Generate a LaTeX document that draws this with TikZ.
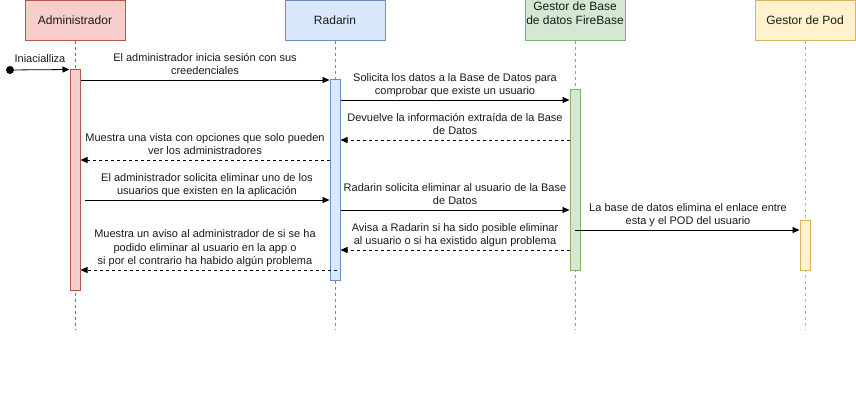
\documentclass[tikz,border=0pt]{standalone}
\usepackage{fontspec}
\setmainfont{Liberation Sans}
\usetikzlibrary{arrows.meta}
\definecolor{redF}{HTML}{F8CECC}\definecolor{redS}{HTML}{B85450}
\definecolor{bluF}{HTML}{DAE8FC}\definecolor{bluS}{HTML}{6C8EBF}
\definecolor{grnF}{HTML}{D5E8D4}\definecolor{grnS}{HTML}{82B366}
\definecolor{ylwF}{HTML}{FFF2CC}\definecolor{ylwS}{HTML}{D6B656}
\definecolor{txt}{HTML}{1A1A1A}
\tikzset{
  head/.style={draw=#1S, fill=#1F, line width=1pt, minimum width=100pt, minimum height=40pt,
    inner sep=0pt, font=\fontsize{12}{14}\selectfont, text=txt, align=center},
  lifeline/.style={draw=#1S, line width=0.8pt, dash pattern=on 3pt off 3pt},
  actbar/.style={draw=#1S, fill=#1F, line width=1pt, minimum width=10pt, inner sep=0pt},
  msg/.style={draw=black, line width=0.8pt, -{Triangle[length=7pt,width=6pt]}},
  ret/.style={msg, dash pattern=on 3pt off 3pt},
  lbl/.style={font=\fontsize{11}{13.5}\selectfont, text=txt, align=center, inner sep=0pt, anchor=south},
}
\begin{document}
\begin{tikzpicture}[x=1pt,y=-1pt]
\useasboundingbox (0,0) rectangle (856,401);
\clip (0,0) rectangle (856,401);
% headers
\node[head=red] (hA) at (75,20.5) {Administrador};
\node[head=blu] (hR) at (335,20.5) {Radarin};
\node[head=grn, minimum height=54pt] (hG) at (575,13.5) {Gestor de Base\\de datos FireBase};
\node[head=ylw] (hP) at (805,20.5) {Gestor de Pod};
% lifeline ends
\coordinate (eA) at (75.5,330);
\coordinate (eR) at (335.5,330);
\coordinate (eG) at (575.5,330);
\coordinate (eP) at (805.5,330);
\draw[lifeline=red] (hA.south -| eA) -- (eA);
\draw[lifeline=blu] (hR.south -| eR) -- (eR);
\draw[lifeline=grn] (hG.south -| eG) -- (eG);
\draw[lifeline=ylw] (hP.south -| eP) -- (eP);
% activation bars
\node[actbar=red, minimum height=220pt] (bA) at (75,180) {};
\node[actbar=blu, minimum height=200pt] (bR) at (335,180) {};
\node[actbar=grn, minimum height=180pt] (bG) at (575,180) {};
\node[actbar=ylw, minimum height=50pt] (bP) at (805,245) {};
% start
\node[circle, fill=black, inner sep=0pt, minimum size=8pt] (st) at (10,70) {};
\draw[msg] (st) -- (bA.north west);
\node[lbl] (lst) at (40,67) {Iniacialliza\strut};
% rows
\coordinate (y1) at (0,80);
\coordinate (y2) at (0,100);
\coordinate (y3) at (0,140);
\coordinate (y4) at (0,160);
\coordinate (y5) at (0,200);
\coordinate (y6) at (0,210);
\coordinate (y7) at (0,230);
\coordinate (y8) at (0,250);
\coordinate (y9) at (0,270);
\coordinate (s5) at (85,200);
\coordinate (s9) at (337,270);
% messages
\draw[msg] (bA.east |- y1) -- (bR.west |- y1);
\node[lbl] (l1) at (205,79) {El administrador inicia sesión con sus\\creedenciales\strut};
\draw[msg] (bR.east |- y2) -- (bG.west |- y2);
\node[lbl] (l2) at (455,99) {Solicita los datos a la Base de Datos para\\comprobar que existe un usuario\strut};
\draw[ret] (bG.west |- y3) -- (bR.east |- y3);
\node[lbl] (l3) at (455,139) {Devuelve la información extraída de la Base\\de Datos\strut};
\draw[ret] (bR.west |- y4) -- (bA.east |- y4);
\node[lbl] (l4) at (205,159) {Muestra una vista con opciones que solo pueden\\ver los administradores\strut};
\draw[msg] (s5) -- (bR.west |- y5);
\node[lbl] (l5) at (207,199) {El administrador solicita eliminar uno de los\\usuarios que existen en la aplicación\strut};
\draw[msg] (bR.east |- y6) -- (bG.west |- y6);
\node[lbl] (l6) at (455,209) {Radarin solicita eliminar al usuario de la Base\\de Datos\strut};
\draw[msg] (bG.center |- y7) -- (bP.west |- y7);
\node[lbl] (l7) at (688,229) {La base de datos elimina el enlace entre\\esta y el POD del usuario\strut};
\draw[ret] (bG.west |- y8) -- (bR.east |- y8);
\node[lbl] (l8) at (455,249) {Avisa a Radarin si ha sido posible eliminar\\al usuario o si ha existido algun problema\strut};
\draw[ret] (s9) -- (bA.east |- y9);
\node[lbl] (l9) at (205,269) {Muestra un aviso al administrador de si se ha\\podido eliminar al usuario en la app o\\si por el contrario ha habido algún problema\strut};
\end{tikzpicture}
\end{document}
